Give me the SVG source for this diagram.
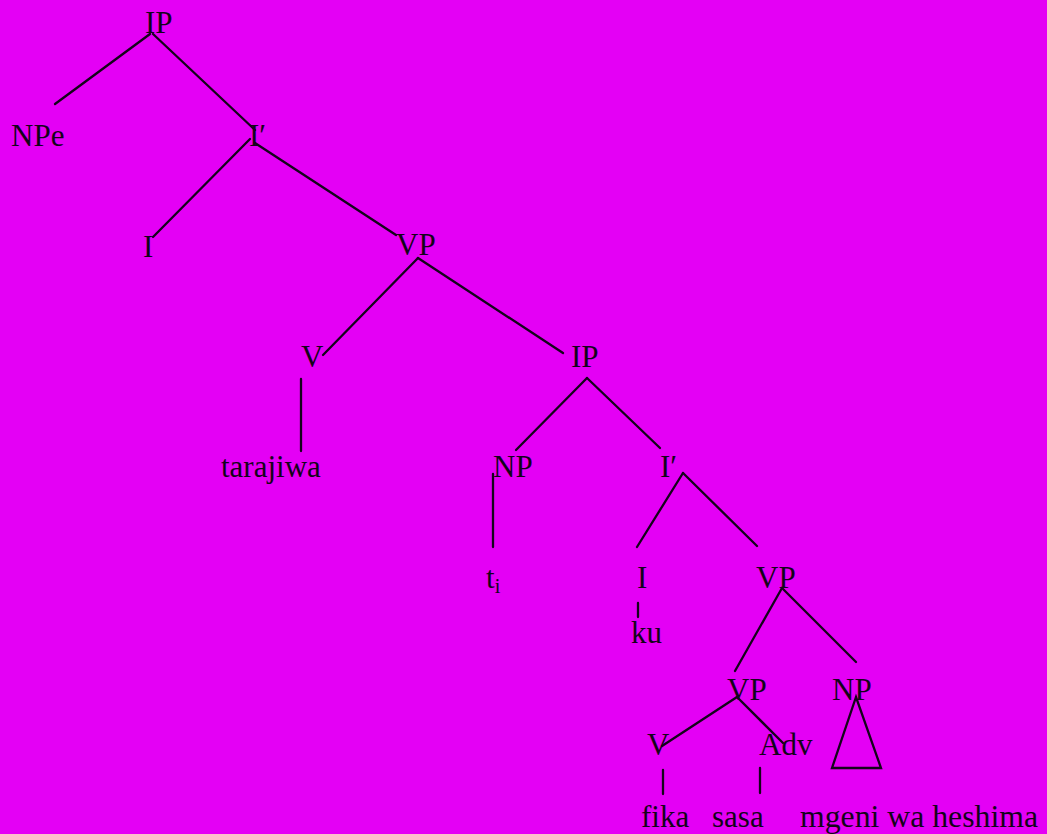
<svg xmlns="http://www.w3.org/2000/svg" width="1047" height="834" viewBox="0 0 1047 834">
<style>
.t{font-family:"Liberation Serif","Times New Roman",serif;font-size:31px;fill:#14031a}
.s{font-family:"Liberation Serif","Times New Roman",serif;font-size:20px;fill:#14031a}
.e line,.e polygon{stroke:#14031a;stroke-width:2.3;fill:none;stroke-linecap:round}
</style>
<rect width="1047" height="834" fill="#E400F5"/>
<g class="e" id="connectors">
<line x1="150" y1="34" x2="55" y2="104"/>
<line x1="153" y1="34" x2="255" y2="130"/>
<line x1="250" y1="139" x2="153" y2="237"/>
<line x1="255" y1="143" x2="396" y2="235"/>
<line x1="418" y1="258" x2="323" y2="355"/>
<line x1="418" y1="258" x2="563" y2="353"/>
<line x1="301" y1="379" x2="301" y2="451"/>
<line x1="587" y1="378" x2="516" y2="450"/>
<line x1="587" y1="378" x2="660" y2="448"/>
<line x1="493" y1="474" x2="493" y2="547"/>
<line x1="683" y1="473" x2="637" y2="547"/>
<line x1="683" y1="473" x2="757" y2="546"/>
<line x1="638" y1="603" x2="638" y2="617"/>
<line x1="782" y1="588" x2="735" y2="671"/>
<line x1="782" y1="588" x2="856" y2="662"/>
<line x1="737" y1="697" x2="662" y2="746"/>
<line x1="737" y1="697" x2="783" y2="743"/>
<line x1="663" y1="770" x2="663" y2="794"/>
<line x1="760" y1="768" x2="760" y2="793"/>
<polygon points="856,697 832,768 881,768"/>
</g>
<g id="n-ip1"><text class="t" x="145" y="33">IP</text></g>
<g id="n-npe"><text class="t" x="11" y="146">NPe</text></g>
<g id="n-ibar1"><text class="t" x="249" y="146">I′</text></g>
<g id="n-i1"><text class="t" x="143" y="257">I</text></g>
<g id="n-vp1"><text class="t" x="396" y="255">VP</text></g>
<g id="n-v1"><text class="t" x="301" y="367">V</text></g>
<g id="n-ip2"><text class="t" x="571" y="367">IP</text></g>
<g id="n-tarajiwa"><text class="t" x="221" y="477">tarajiwa</text></g>
<g id="n-np1"><text class="t" x="493" y="477">NP</text></g>
<g id="n-ibar2"><text class="t" x="660" y="477">I′</text></g>
<g id="n-ti"><text class="t" x="486" y="588">t<tspan class="s" dy="5">i</tspan></text></g>
<g id="n-i2"><text class="t" x="637" y="588">I</text></g>
<g id="n-vp2"><text class="t" x="756" y="588">VP</text></g>
<g id="n-ku"><text class="t" x="631" y="643">ku</text></g>
<g id="n-vp3"><text class="t" x="727" y="700">VP</text></g>
<g id="n-np2"><text class="t" x="832" y="700">NP</text></g>
<g id="n-v2"><text class="t" x="647" y="755">V</text></g>
<g id="n-adv"><text class="t" x="759" y="755">Adv</text></g>
<g id="n-fika"><text class="t" x="641" y="827">fika</text></g>
<g id="n-sasa"><text class="t" x="712" y="827">sasa</text></g>
<g id="n-mgeni"><text class="t" x="800" y="827" textLength="238" lengthAdjust="spacingAndGlyphs">mgeni wa heshima</text></g>
</svg>
